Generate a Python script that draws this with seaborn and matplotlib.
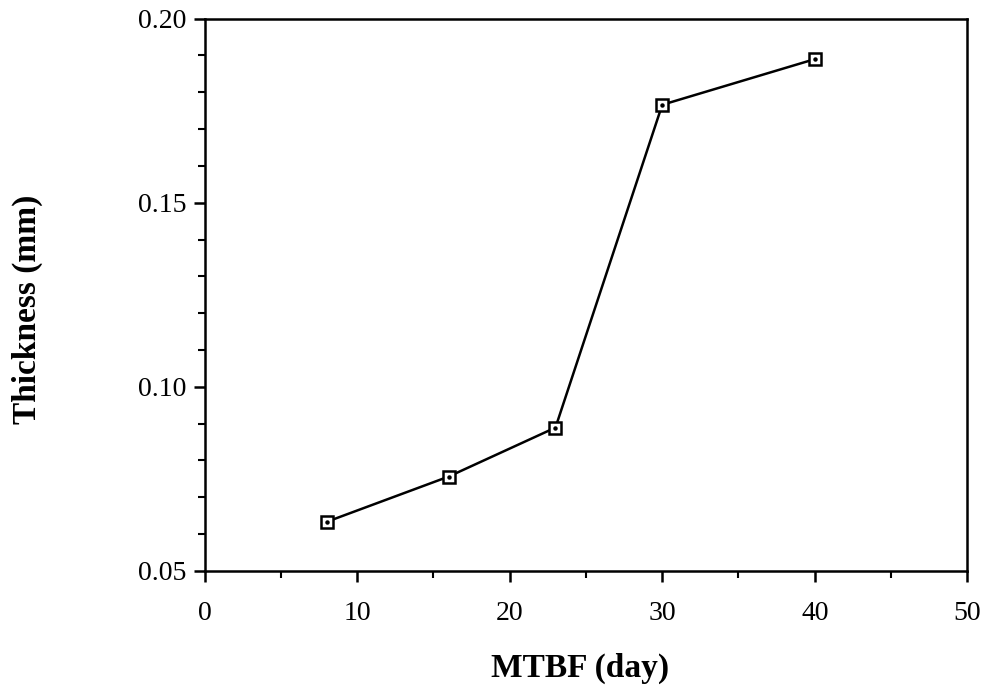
import matplotlib
matplotlib.use("Agg")
import matplotlib.pyplot as plt
import seaborn as sns
import pandas as pd
from matplotlib.ticker import MultipleLocator, FormatStrFormatter

mtbf = [8, 16, 23, 30, 40]
thickness = [0.0633, 0.0756, 0.0889, 0.1766, 0.189]
x_ticks = [0, 10, 20, 30, 40, 50]
y_ticks = [0.05, 0.10, 0.15, 0.20]

sns.set_theme(style="white")
plt.rcParams['font.family'] = ['Liberation Serif', 'DejaVu Serif']

df = pd.DataFrame({"MTBF (day)": mtbf, "Thickness (mm)": thickness})

fig = plt.figure(figsize=(9.84, 6.91), dpi=100)
ax = fig.add_axes([0.208, 0.174, 0.775, 0.799])

sns.lineplot(data=df, x="MTBF (day)", y="Thickness (mm)", ax=ax, color="black",
             linewidth=1.8, marker="s", markersize=9, markerfacecolor="white",
             markeredgecolor="black", markeredgewidth=1.8)
ax.plot(df["MTBF (day)"], df["Thickness (mm)"], linestyle="none", marker="o",
        markersize=2.2, color="black")

ax.set_xlim(0, 50)
ax.set_ylim(0.05, 0.20)
ax.set_xticks(x_ticks)
ax.set_yticks(y_ticks)
ax.yaxis.set_major_formatter(FormatStrFormatter('%.2f'))
ax.xaxis.set_minor_locator(MultipleLocator(5))
ax.yaxis.set_minor_locator(MultipleLocator(0.01))

ax.tick_params(axis='both', which='major', direction='out', length=8, width=1.8,
               labelsize=20, color='black', labelcolor='black',
               bottom=True, left=True, top=False, right=False)
ax.tick_params(axis='x', which='major', pad=14)
ax.tick_params(axis='y', which='major', pad=5)
ax.tick_params(axis='both', which='minor', direction='out', length=5, width=1.5,
               color='black', bottom=True, left=True, top=False, right=False)

for s in ax.spines.values():
    s.set_visible(True)
    s.set_color('black')
    s.set_linewidth(1.8)

ax.set_xlabel("MTBF (day)", fontsize=24, fontweight='bold', color='black')
ax.set_ylabel("Thickness (mm)", fontsize=24, fontweight='bold', color='black')
ax.xaxis.label.set_va('center')
ax.yaxis.label.set_va('center')
ax.xaxis.set_label_coords(0.492, -0.176)
ax.yaxis.set_label_coords(-0.232, 0.474)

fig.savefig("out.png", dpi=100, facecolor="white")
